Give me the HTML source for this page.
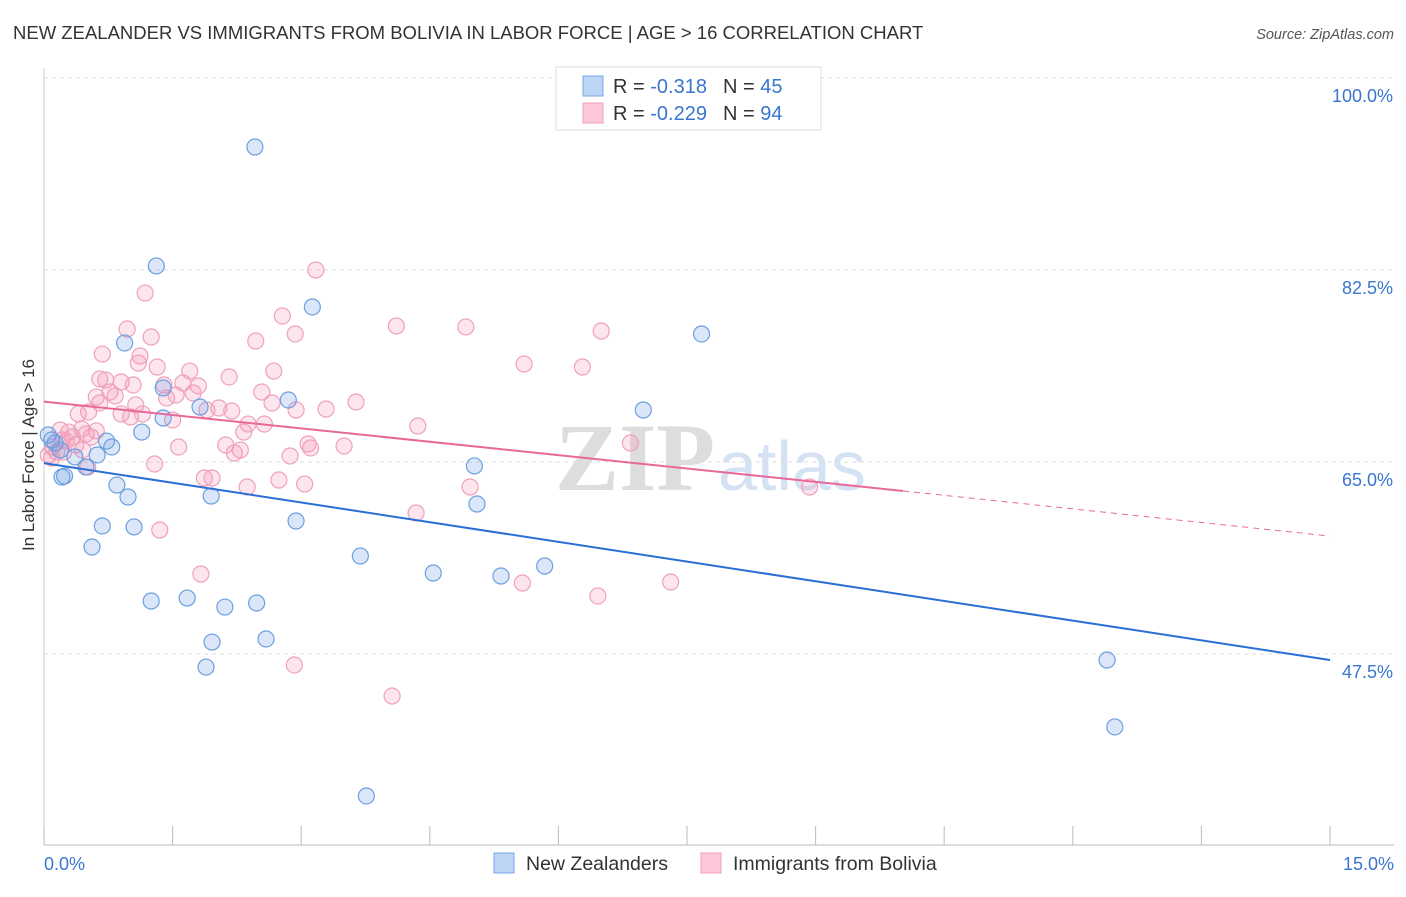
<!DOCTYPE html>
<html><head><meta charset="utf-8"><style>
body{margin:0;background:#fff;font-family:"Liberation Sans",sans-serif;}
</style></head><body>
<svg id="chart" width="1406" height="892" xmlns="http://www.w3.org/2000/svg" font-family="Liberation Sans, sans-serif">
<text x="13" y="39" font-size="18.5" fill="#333">NEW ZEALANDER VS IMMIGRANTS FROM BOLIVIA IN LABOR FORCE | AGE &gt; 16 CORRELATION CHART</text>
<text x="1394" y="39" font-size="14.5" fill="#555" text-anchor="end" font-style="italic">Source: ZipAtlas.com</text>
<g>
<text x="555" y="490" font-size="96" fill="#ddd" font-family="Liberation Serif, serif" font-weight="bold">ZIP</text>
<text x="718" y="490" font-size="70" fill="#d4e2f4">atlas</text>
</g>
<g id="grid"></g><g id="axes"></g><g id="pts"></g><g id="lines"></g>
<text transform="translate(34,455) rotate(-90)" font-size="17" fill="#333" text-anchor="middle">In Labor Force | Age &gt; 16</text>
<g>
<rect x="556" y="67" width="265" height="63" fill="#fff" stroke="#ddd"/>
<rect x="583" y="76" width="20" height="20" fill="#bcd5f5" stroke="#7aa8e6"/>
<rect x="583" y="103" width="20" height="20" fill="#fcc8d8" stroke="#f0a0bb"/>
<text x="613" y="93" font-size="20" fill="#333">R = <tspan fill="#3a75d0"> -0.318</tspan><tspan dx="16">N = </tspan><tspan fill="#3a75d0">45</tspan></text>
<text x="613" y="120" font-size="20" fill="#333">R = <tspan fill="#3a75d0">-0.229</tspan><tspan dx="16">N = </tspan><tspan fill="#3a75d0">94</tspan></text>
</g>
<g>
<rect x="494" y="853" width="20" height="20" fill="#bcd5f5" stroke="#7aa8e6"/>
<text x="526" y="870" font-size="19.5" fill="#333">New Zealanders</text>
<rect x="701" y="853" width="20" height="20" fill="#fcc8d8" stroke="#f0a0bb"/>
<text x="733" y="870" font-size="19.5" fill="#333">Immigrants from Bolivia</text>
</g>
</svg>
<script>
const yTicks=[47.5,65.0,82.5,100.0];
const yTickLabels=["47.5%","65.0%","82.5%","100.0%"];
const xTickLabels=["0.0%","15.0%"];
const blueX=[2.46,1.31,3.13,7.67,0.94,1.39,2.85,1.82,6.99,1.39,1.14,0.73,0.79,0.13,0.36,0.62,0.49,5.02,0.24,0.21,0.85,0.98,1.95,5.05,2.94,0.68,1.05,0.56,3.69,4.54,5.33,5.84,1.25,1.67,2.11,2.48,1.96,2.59,1.89,12.40,12.49,3.76,0.05,0.09,0.19];
const blueY=[93.71,82.87,79.13,76.67,75.85,71.75,70.65,70.01,69.74,69.01,67.73,66.91,66.37,66.73,65.46,65.64,64.54,64.64,63.72,63.63,62.90,61.81,61.90,61.17,59.62,59.17,59.08,57.25,56.43,54.88,54.61,55.52,52.33,52.60,51.78,52.15,48.59,48.87,46.31,46.95,40.85,34.56,67.46,67.01,66.09];
const pinkX=[3.17,1.18,2.78,0.97,1.25,2.93,4.11,4.92,6.50,2.47,0.68,1.12,1.10,5.60,6.28,1.32,1.70,2.68,2.16,0.65,0.72,0.90,1.04,1.40,1.62,1.80,0.77,0.83,2.54,0.61,1.43,1.74,3.64,2.66,2.94,3.29,1.90,2.04,2.19,0.40,0.52,0.90,1.01,1.15,1.50,2.38,2.57,4.36,2.33,0.44,0.29,0.33,0.61,0.49,0.55,0.37,0.21,0.10,2.12,2.22,3.08,3.11,3.50,6.84,1.57,0.15,0.05,0.23,1.29,0.51,1.87,1.96,2.74,3.04,2.37,4.97,4.34,8.93,1.35,1.83,5.58,7.31,6.46,2.92,4.06,0.19,0.26,0.09,0.45,0.65,1.07,1.54,2.29,2.87];
const pinkY=[82.50,80.40,78.31,77.12,76.39,76.67,77.40,77.31,76.94,76.03,74.84,74.66,74.02,73.93,73.66,73.66,73.29,73.29,72.75,72.57,72.47,72.29,72.02,72.02,72.20,71.93,71.38,71.02,71.38,70.92,70.83,71.29,70.47,70.38,69.74,69.83,69.74,69.92,69.65,69.38,69.56,69.38,69.10,69.38,68.83,68.46,68.46,68.28,67.73,68.01,67.73,67.28,67.83,67.55,67.28,66.55,67.01,66.37,66.55,65.82,66.64,66.28,66.46,66.73,66.37,65.91,65.64,65.91,64.82,64.54,63.54,63.54,63.36,62.99,62.72,62.72,60.35,62.72,58.80,54.79,53.97,54.06,52.79,46.50,43.67,67.92,66.91,65.36,66.09,70.38,70.20,71.11,66.09,65.55];
const blueTrend=[[0,64.9],[15,46.95]];
const pinkTrend=[[0,70.5],[10.02,62.36],[15,58.25]];
const NS="http://www.w3.org/2000/svg";
const X0=44,X1=1330;
const sx=v=>X0+(v/15)*(X1-X0);
const sy=v=>462-(v-65)*(192/17.5);
function mk(tag,attrs,parent){const e=document.createElementNS(NS,tag);for(const k in attrs)e.setAttribute(k,attrs[k]);document.getElementById(parent).appendChild(e);return e;}
yTicks.forEach((t,i)=>{
 const g=mk('line',{x1:X0,x2:1394,y1:sy(t),y2:sy(t),stroke:'#ddd','stroke-dasharray':'4,4'},'grid');
 
 
 const l=mk('text',{x:1393,y:sy(t)+24,'font-size':18,fill:'#3a75d0','text-anchor':'end'},'axes');
 l.textContent=yTickLabels[i];
 
 
});
const ax=mk('line',{x1:X0,x2:1394,y1:845,y2:845,stroke:'#bbb'},'axes');


const ay=mk('line',{x1:X0,x2:X0,y1:68,y2:845,stroke:'#ccc'},'axes');


for(let i=0;i<=10;i++){
 const t=mk('line',{x1:sx(i*1.5),x2:sx(i*1.5),y1:826,y2:845,stroke:'#bbb'},'axes');
 
 
}
[[0,'start',44],[15,'end',1394]].forEach((d,i)=>{
 const l=mk('text',{x:d[2],y:870,'font-size':18,fill:'#3a75d0','text-anchor':d[1]},'axes');
 l.textContent=xTickLabels[i];
 
 
});
pinkX.forEach((v,i)=>{
 const c=mk('circle',{cx:sx(v),cy:sy(pinkY[i]),r:8,fill:'rgba(244,150,180,0.25)',stroke:'#f0a0bb','stroke-width':1.2},'pts');
 
 
});
blueX.forEach((v,i)=>{
 const c=mk('circle',{cx:sx(v),cy:sy(blueY[i]),r:8,fill:'rgba(110,160,230,0.25)',stroke:'#6a9fe0','stroke-width':1.2},'pts');
 
 
});
const bl=mk('line',{x1:sx(blueTrend[0][0]),y1:sy(blueTrend[0][1]),x2:sx(blueTrend[1][0]),y2:sy(blueTrend[1][1]),stroke:'#2a6fd6','stroke-width':2},'lines');


const pl=mk('line',{x1:sx(pinkTrend[0][0]),y1:sy(pinkTrend[0][1]),x2:sx(pinkTrend[1][0]),y2:sy(pinkTrend[1][1]),stroke:'#e8689a','stroke-width':2},'lines');


const pd=mk('line',{x1:sx(pinkTrend[1][0]),y1:sy(pinkTrend[1][1]),x2:sx(pinkTrend[2][0]),y2:sy(pinkTrend[2][1]),stroke:'#e8689a','stroke-width':1,'stroke-dasharray':'6,5'},'lines');


</script>
</body></html>
